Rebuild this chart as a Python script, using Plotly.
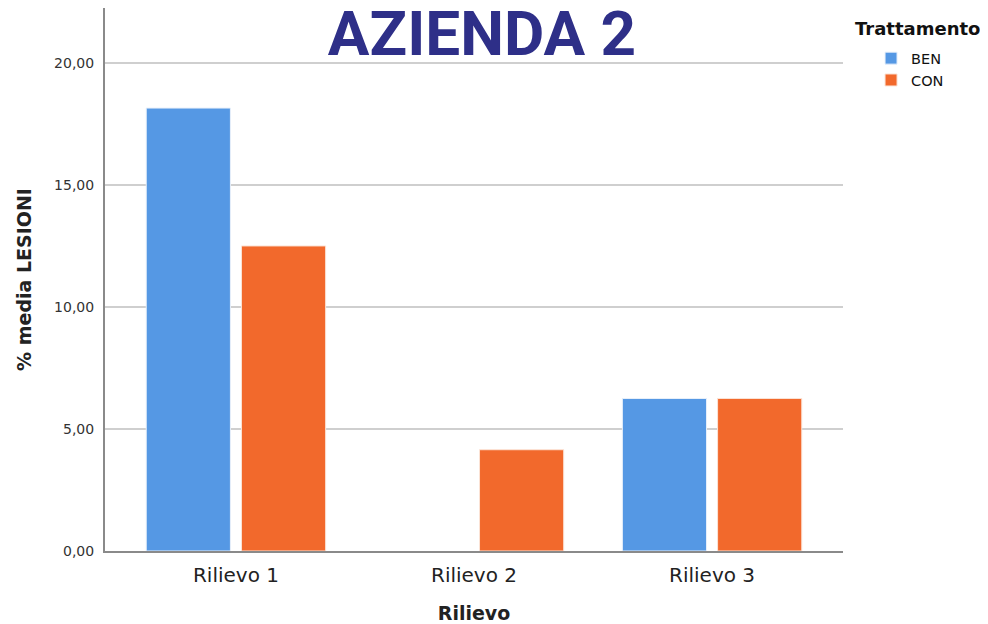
import plotly.graph_objects as go

categories = ["Rilievo 1", "Rilievo 2", "Rilievo 3"]
ben_values = [18.15, 0.0, 6.25]
con_values = [12.5, 4.15, 6.25]
y_ticks = [0, 5, 10, 15, 20]

fig = go.Figure()
fig.add_trace(go.Bar(name="BEN", x=categories, y=ben_values,
                     marker=dict(color="#5598E4",
                                 line=dict(color="#E8F0FA",
                                           width=[0 if v == 0 else 1 for v in ben_values]))))
fig.add_trace(go.Bar(name="CON", x=categories, y=con_values,
                     marker=dict(color="#F2692C",
                                 line=dict(color="#FBE3D6",
                                           width=[0 if v == 0 else 1 for v in con_values]))))

# page has an 8px body margin, so the figure is 8px smaller on each side
fig.update_layout(
    width=980, height=616,
    paper_bgcolor="white", plot_bgcolor="white",
    margin=dict(l=97, r=145, t=0, b=73, autoexpand=False),
    barmode="group", bargap=0.2, bargroupgap=0.116,
    separators=",.",
    font=dict(family="DejaVu Sans", color="#222222"),
    title=dict(text="<b>AZIENDA 2</b>", x=0.4837, xanchor="center", y=0.9935, yanchor="top",
               font=dict(family="Roboto", size=62, color="#2E2F88")),
    annotations=[dict(text="<b>Trattamento</b>", xref="paper", yref="paper",
                      x=1.0135, xanchor="left", y=0.985, yanchor="top", showarrow=False,
                      font=dict(size=18, family="DejaVu Sans", color="#111"))],
    legend=dict(x=1.038, xanchor="left", y=0.937, yanchor="top",
                font=dict(size=14.5, family="DejaVu Sans", color="#111"),
                itemwidth=30, tracegroupgap=0),
    xaxis=dict(title=dict(text="<b>Rilievo</b>", font=dict(size=19), standoff=25),
               automargin=False,
               range=[-0.55, 2.55], showline=True, linecolor="#8a8a8a", linewidth=2,
               tickfont=dict(size=20, color="#222"), ticks="", showgrid=False,
               ticklabelstandoff=5),
    yaxis=dict(title=dict(text="<b>% media LESIONI</b>", font=dict(size=19), standoff=17),
               automargin=False,
               range=[0, 22.25], tickvals=y_ticks, tickformat=".2f",
               showline=True, linecolor="#8a8a8a", linewidth=2,
               gridcolor="#CFCFCF", gridwidth=1.5, zeroline=False,
               tickfont=dict(size=14, color="#333"), ticks="outside", ticklen=6,
               tickcolor="white"),
)

fig.write_html("out.html")
